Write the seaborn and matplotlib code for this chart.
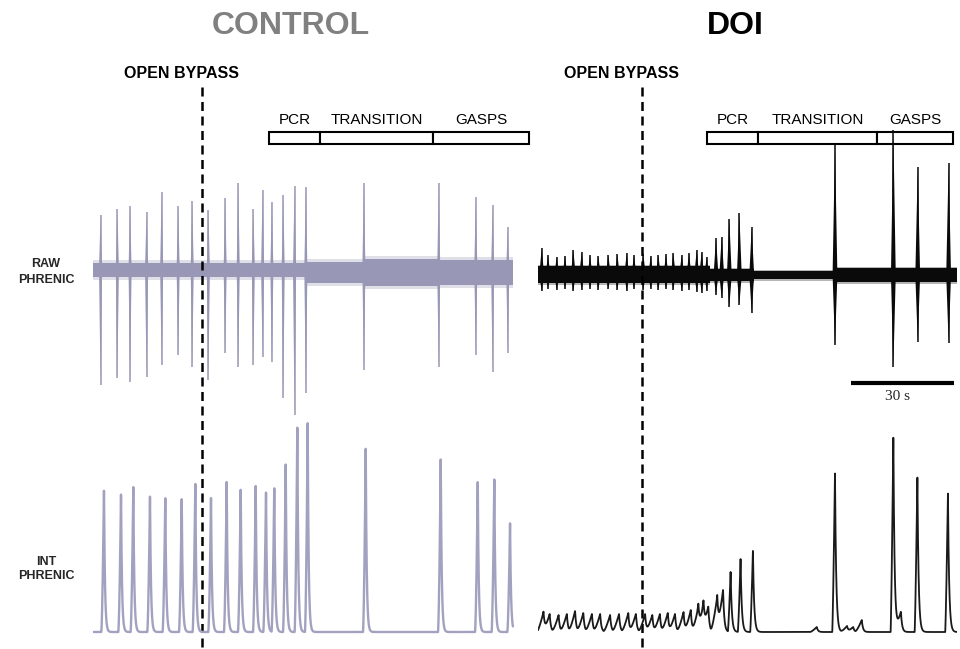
import numpy as np
import pandas as pd
import matplotlib
matplotlib.use("Agg")
import matplotlib.pyplot as plt
import matplotlib.transforms as mtransforms
from matplotlib.patches import Rectangle
import seaborn as sns

sns.set_theme(style="white")
plt.rcParams["font.family"] = ["Liberation Sans", "DejaVu Sans"]

W, H = 960, 649
PX_PER_S = 103 / 30.0          # horizontal scale shared by both recordings
SCALE_BAR_S = 30

phase_names = ["PCR", "TRANSITION", "GASPS"]

# ---------------- CONTROL recording ----------------
ctrl_duration = 122.3
ctrl_bypass = 31.75
ctrl_phase_edges = [51.3, 66.1, 99.0, 127.0]
ctrl_raw_t = [2.2, 7.1, 10.8, 15.6, 20.0, 24.8, 28.9, 33.6, 38.5, 42.3, 46.7,
              49.4, 52.1, 55.4, 58.7, 62.0, 78.9, 100.7, 111.5, 116.4, 120.8]
ctrl_raw_up = [54, 60, 63, 57, 77, 63, 68, 59, 71, 86, 60,
               79, 67, 74, 83, 82, 86, 86, 72, 64, 42]
ctrl_raw_dn = [116, 109, 113, 108, 96, 86, 98, 111, 84, 98, 96,
               88, 93, 129, 146, 124, 101, 98, 86, 103, 84]
ctrl_noise_t = [0.0, 62.0, 78.9, 100.7, 122.3]
ctrl_noise_up = [6, 7, 10, 9]
ctrl_noise_dn = [8, 14, 17, 16]
ctrl_int_t = [3.2, 8.16, 11.74, 16.6, 21.06, 25.84, 29.8, 34.37, 38.94, 43.02, 47.39,
              50.39, 52.8, 56.13, 59.51, 62.53, 79.43, 101.28, 112.06, 116.89, 121.47]
ctrl_int_amp = [143, 139, 146, 137, 136, 134, 150, 134, 151, 144, 146,
                141, 144, 168, 206, 209, 186, 174, 152, 153, 109]

# ---------------- DOI recording ----------------
doi_duration = 122.0
doi_bypass = 30.3
doi_phase_edges = [49.2, 64.1, 98.7, 120.9]
doi_raw_t = [1.08, 2.91, 5.45, 7.86, 10.28, 12.73, 15.15, 17.56, 20.48, 23.1,
             25.84, 27.96, 30.67, 32.83, 35.04, 37.28, 39.41, 41.86, 43.98, 46.23,
             47.68, 49.14, 51.85, 53.51, 55.72, 58.64, 62.25, 86.5, 103.5, 110.6, 119.6]
doi_raw_up = [27, 20, 18, 19, 25, 23, 20, 19, 20, 21,
              22, 20, 21, 19, 20, 21, 22, 20, 22, 25,
              23, 18, 37, 38, 56, 62, 48, 130, 145, 108, 112]
doi_raw_dn = [16, 14, 15, 14, 16, 15, 14, 15, 14, 15,
              16, 14, 15, 14, 15, 14, 15, 16, 15, 17,
              18, 16, 20, 23, 32, 30, 38, 70, 92, 67, 68]
doi_noise_t = [0.0, 50.0, 63.0, 86.5, 122.0]
doi_noise_up = [9, 6, 4, 7]
doi_noise_dn = [8, 6, 4, 7]
doi_int_t = [1.6, 3.4, 6.0, 8.4, 10.8, 13.2, 15.7, 18.1, 21.0, 23.6,
             26.3, 28.5, 31.2, 33.3, 35.5, 37.8, 39.9, 42.4, 44.5, 46.7,
             48.2, 49.6, 52.2, 53.9, 56.1, 59.0, 62.6, 86.5, 103.5, 110.5, 119.4]
doi_int_amp = [20, 18, 17, 18, 21, 19, 18, 18, 17, 18,
               19, 18, 18, 17, 18, 19, 18, 20, 22, 25,
               27, 25, 35, 42, 60, 73, 82, 160, 196, 156, 139]
doi_int_minor_t = [81.2, 90.0, 91.8, 94.3, 105.7]
doi_int_minor_amp = [5, 6, 5, 12, 20]

CTRL_RAW_COLOR = "#9898b6"
CTRL_INT_COLOR = "#a2a2c0"
DOI_COLOR = "#0a0a0a"


def make_ax(fig, left_px, width_px, top_px, bottom_px, xlim, ylim):
    ax = fig.add_axes([left_px / W, 1 - bottom_px / H, width_px / W,
                       (bottom_px - top_px) / H])
    ax.set_xlim(*xlim)
    ax.set_ylim(*ylim)
    ax.set_axis_off()
    return ax


def integrated_trace(t, peaks_t, peaks_amp, rise_small, rise_big, tau, power):
    """Sum of burst envelopes: ramp-up over `rise`, exponential fall after the peak."""
    y = np.zeros_like(t)
    for pt, a in zip(peaks_t, peaks_amp):
        rise = rise_small if a < 45 else rise_big
        dt = t - pt
        k = np.zeros_like(t)
        m1 = (dt < 0) & (dt > -rise)
        k[m1] = (1 + dt[m1] / rise) ** power
        m2 = dt >= 0
        k[m2] = np.exp(-dt[m2] / tau)
        y += a * k
    return y


def draw_raw(ax, noise_t, noise_up, noise_dn, spk_t, spk_up, spk_dn, color, half_w,
             fringe):
    up = list(noise_up) + [noise_up[-1]]
    dn = list(noise_dn) + [noise_dn[-1]]
    # soft outer fringe, then dense core of the baseline activity
    ax.fill_between(noise_t, [-d - fringe for d in dn], [u + fringe for u in up],
                    step="post", color=color, alpha=0.3, lw=0, zorder=2)
    ax.fill_between(noise_t, [-d for d in dn], up, step="post", color=color, lw=0,
                    zorder=2)
    for t, u, d in zip(spk_t, spk_up, spk_dn):
        ax.fill([t - half_w, t, t + half_w, t], [0, u, 0, -d], color=color, lw=0,
                zorder=3)
        ax.vlines(t, -d, u, color=color, lw=1.1, zorder=3)


def draw_int(ax, duration, peaks_t, peaks_amp, color, lw, shape, extra=None):
    t = np.linspace(0, duration, 9000)
    y = integrated_trace(t, peaks_t, peaks_amp, *shape)
    if extra is not None:
        y += integrated_trace(t, extra[0], extra[1], *shape)
    df = pd.DataFrame({"time": t, "signal": y})
    sns.lineplot(data=df, x="time", y="signal", ax=ax, color=color, lw=lw,
                 estimator=None, sort=False)
    ax.set_axis_off()


def annotate_column(fig, ax, bypass, phase_edges, title, title_color):
    trans = mtransforms.blended_transform_factory(ax.transData, fig.transFigure)
    ax.plot([bypass, bypass], [1 - 87 / H, 0], transform=trans, color="black",
            lw=1.8, ls=(0, (3.6, 2.2)), clip_on=False, zorder=10)
    ax.text(bypass - 6.1, 1 - 74 / H, "OPEN BYPASS", transform=trans, ha="center",
            va="center", fontsize=11.5, fontweight="bold", color="black")
    ax.text(57.5, 1 - 26 / H, title, transform=trans, ha="center", va="center",
            fontsize=23, fontweight="bold", color=title_color)
    for name, e0, e1 in zip(phase_names, phase_edges[:-1], phase_edges[1:]):
        ax.add_patch(Rectangle((e0, 1 - 144 / H), e1 - e0, 12 / H, transform=trans,
                               facecolor="white", edgecolor="black", lw=1.5,
                               clip_on=False, zorder=1))
        ax.text((e0 + e1) / 2, 1 - 119.5 / H, name, transform=trans, ha="center",
                va="center", fontsize=11, color="black")


fig = plt.figure(figsize=(W / 100, H / 100), dpi=100)

# Control column
ax_cr = make_ax(fig, 93, 128 * PX_PER_S, 115, 425, (0, 128), (-(425 - 269), 269 - 115))
ax_ci = make_ax(fig, 93, 128 * PX_PER_S, 400, 645, (0, 128), (-13, 232))
draw_raw(ax_cr, ctrl_noise_t, ctrl_noise_up, ctrl_noise_dn,
         ctrl_raw_t, ctrl_raw_up, ctrl_raw_dn, CTRL_RAW_COLOR, 0.45, 3)
draw_int(ax_ci, ctrl_duration, ctrl_int_t, ctrl_int_amp, CTRL_INT_COLOR, 1.7,
         (0.8, 0.8, 0.28, 1.6))
annotate_column(fig, ax_cr, ctrl_bypass, ctrl_phase_edges, "CONTROL", "#808080")

# DOI column
ax_dr = make_ax(fig, 538, 122 * PX_PER_S, 115, 425, (0, 122), (-(425 - 275), 275 - 115))
ax_di = make_ax(fig, 538, 122 * PX_PER_S, 400, 645, (0, 122), (-13, 232))
draw_raw(ax_dr, doi_noise_t, doi_noise_up, doi_noise_dn,
         doi_raw_t, doi_raw_up, doi_raw_dn, DOI_COLOR, 0.7, 1.5)
draw_int(ax_di, doi_duration, doi_int_t, doi_int_amp, "#1a1a1a", 1.3,
         (1.9, 0.8, 0.35, 1.3), extra=(doi_int_minor_t, doi_int_minor_amp))
annotate_column(fig, ax_dr, doi_bypass, doi_phase_edges, "DOI", "black")

# 30 s scale bar under the DOI raw trace
bar_end = 121.2
ax_dr.plot([bar_end - SCALE_BAR_S, bar_end], [-108, -108], color="black", lw=3,
           solid_capstyle="butt", clip_on=False)
ax_dr.text(bar_end - SCALE_BAR_S / 2 - 1.4, -122, f"{SCALE_BAR_S} s", ha="center",
           va="center", fontsize=11, family=["Liberation Serif", "DejaVu Serif"])

# Row labels
fig.text(46 / W, 1 - 272 / H, "RAW\nPHRENIC", ha="center", va="center",
         fontsize=9, fontweight="bold", linespacing=1.5)
fig.text(46 / W, 1 - 569 / H, "INT\nPHRENIC", ha="center", va="center",
         fontsize=9, fontweight="bold", linespacing=1.3)

fig.savefig("out.png", dpi=100, facecolor="white")
